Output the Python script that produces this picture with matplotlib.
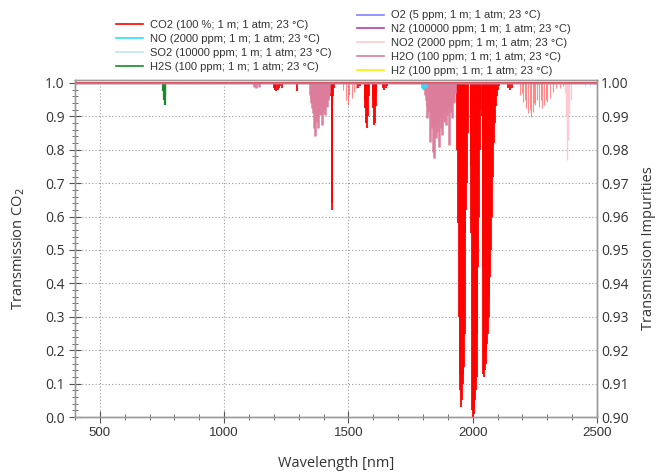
import matplotlib
matplotlib.use("Agg")
import matplotlib.pyplot as plt
from matplotlib.lines import Line2D
from matplotlib.ticker import MultipleLocator

# wavelength span of the simulation [nm]
wl_span = [400, 2500]

# CO2 (left axis) - strong lines: centre [nm], minimum transmission
co2_nm = [1200, 1205, 1210, 1215, 1220, 1226, 1232, 1293,
          1426, 1430, 1433, 1434, 1437, 1441, 1540, 1548,
          1565, 1568, 1572, 1575, 1578, 1581,
          1597, 1600, 1603, 1606, 1609, 1612,
          1640, 1645, 1650, 1655,
          1938, 1941, 1944, 1947, 1950, 1953, 1956, 1959, 1962, 1965, 1968, 1971, 1974, 1977, 1981,
          1992, 1995, 1998, 2001, 2004, 2007, 2010, 2013, 2016, 2019, 2022, 2025, 2028, 2031,
          2036, 2040, 2043, 2046, 2049, 2052, 2055, 2058, 2061, 2064, 2067, 2070, 2073, 2076,
          2080, 2084, 2088, 2092, 2096, 2100, 2104,
          2140, 2150, 2160]
co2_T = [0.985, 0.98, 0.975, 0.98, 0.985, 0.99, 0.985, 0.975,
         0.98, 0.96, 0.64, 0.62, 0.96, 0.985, 0.985, 0.99,
         0.95, 0.925, 0.88, 0.865, 0.90, 0.96,
         0.95, 0.925, 0.874, 0.88, 0.93, 0.97,
         0.985, 0.98, 0.985, 0.99,
         0.80, 0.58, 0.30, 0.13, 0.08, 0.03, 0.05, 0.10, 0.13, 0.15, 0.25, 0.55, 0.62, 0.70, 0.85,
         0.75, 0.55, 0.02, 0.0, 0.01, 0.03, 0.05, 0.08, 0.12, 0.25, 0.45, 0.60, 0.80, 0.92,
         0.90, 0.45, 0.13, 0.12, 0.14, 0.16, 0.20, 0.22, 0.25, 0.30, 0.36, 0.42, 0.50, 0.60,
         0.72, 0.82, 0.88, 0.93, 0.96, 0.98, 0.99,
         0.985, 0.98, 0.985]

# CO2 weak lines (rendered lighter)
co2w_nm = [1480, 1491, 1497, 1503, 1513, 1523, 1531,
           2190, 2198, 2203, 2210, 2215, 2223, 2229, 2235, 2243, 2247, 2251, 2259, 2267,
           2273, 2279, 2287, 2293, 2299, 2311, 2323, 2335, 2350, 2365]
co2w_T = [0.979, 0.949, 0.934, 0.964, 0.955, 0.973, 0.985,
          0.964, 0.97, 0.943, 0.95, 0.925, 0.91, 0.92, 0.898, 0.913, 0.94, 0.934, 0.949, 0.928,
          0.95, 0.925, 0.934, 0.95, 0.943, 0.955, 0.973, 0.985, 0.985, 0.99]

# impurities (right axis)
h2o_nm = [1120, 1130, 1140,
          1346, 1348, 1351, 1354, 1356, 1359, 1362, 1364, 1366, 1369, 1372, 1375, 1378, 1381,
          1384, 1386, 1389, 1393, 1395, 1398, 1401, 1403, 1406, 1409, 1413, 1416, 1418, 1421,
          1805, 1808, 1812, 1815, 1818, 1821, 1825, 1829, 1832, 1835, 1838, 1841, 1845, 1849,
          1853, 1857, 1861, 1865, 1868, 1872, 1877, 1881, 1885, 1889, 1892, 1897, 1901, 1905,
          1909, 1912, 1917, 1921, 1925, 1930]
h2o_T = [0.9988, 0.9985, 0.9988,
         0.9965, 0.9955, 0.994, 0.9925, 0.9925, 0.991, 0.9865, 0.990, 0.984, 0.990, 0.9883, 0.991,
         0.9865, 0.992, 0.991, 0.9904, 0.9925, 0.9874, 0.992, 0.991, 0.993, 0.9925, 0.9904, 0.994,
         0.9928, 0.995, 0.9955, 0.997,
         0.998, 0.9964, 0.995, 0.9895, 0.993, 0.9913, 0.992, 0.9823, 0.990, 0.9865, 0.989, 0.9793,
         0.9775, 0.988, 0.9835, 0.9853, 0.989, 0.9808, 0.990, 0.9865, 0.9844, 0.991, 0.9883, 0.992,
         0.9874, 0.9904, 0.993, 0.9814, 0.993, 0.9913, 0.9895, 0.994, 0.9943, 0.997]
no_nm = [1796, 1800, 1806, 1812]
no_T = [0.9985, 0.9982, 0.9985, 0.9988]
no2_nm = [2372, 2376, 2380, 2384, 2388, 2394]
no2_T = [0.997, 0.99, 0.977, 0.983, 0.991, 0.995]
h2s_nm = [755, 758, 761, 764]
h2s_T = [0.9975, 0.995, 0.9934, 0.996]
so2_nm = [2450, 2470, 2490]
so2_T = [0.9992, 0.999, 0.9993]

colors = {
    "CO2": "#ff0000", "NO": "#33ddff", "SO2": "#bfe6f2", "H2S": "#1a8a2a",
    "O2": "#8080ff", "N2": "#b040b0", "NO2": "#ffc8d2", "H2O": "#dc7d9b", "H2": "#ffee00",
}
labels = {
    "CO2": "CO2 (100 %; 1 m; 1 atm; 23 \u00b0C)",
    "NO": "NO (2000 ppm; 1 m; 1 atm; 23 \u00b0C)",
    "SO2": "SO2 (10000 ppm; 1 m; 1 atm; 23 \u00b0C)",
    "H2S": "H2S (100 ppm; 1 m; 1 atm; 23 \u00b0C)",
    "O2": "O2 (5 ppm; 1 m; 1 atm; 23 \u00b0C)",
    "N2": "N2 (100000 ppm; 1 m; 1 atm; 23 \u00b0C)",
    "NO2": "NO2 (2000 ppm; 1 m; 1 atm; 23 \u00b0C)",
    "H2O": "H2O (100 ppm; 1 m; 1 atm; 23 \u00b0C)",
    "H2": "H2 (100 ppm; 1 m; 1 atm; 23 \u00b0C)",
}

plt.rcParams["font.family"] = ["Open Sans", "DejaVu Sans"]

fig = plt.figure(figsize=(6.59, 4.75), dpi=100)
ax = fig.add_axes([0.1138, 0.1221, 0.7921, 0.7095])
ax2 = ax.twinx()

grey = "#9a9a9a"
ax.set_xlim(*wl_span)
ax.set_ylim(0, 1.009)
ax2.set_ylim(0.9, 1.0009)

# CO2 on left axis
ax.plot(wl_span, [1, 1], color=colors["CO2"], lw=1.2, zorder=3)
ax.vlines(co2_nm, co2_T, 1.0, color=colors["CO2"], lw=1.3, zorder=3)
ax.vlines(co2w_nm, co2w_T, 1.0, color=colors["CO2"], lw=0.8, alpha=0.45, zorder=3)

# impurities on right axis
for key, nm, t, lw in [("SO2", so2_nm, so2_T, 1.0), ("NO2", no2_nm, no2_T, 1.0),
                       ("H2O", h2o_nm, h2o_T, 1.8), ("H2S", h2s_nm, h2s_T, 1.6),
                       ("NO", no_nm, no_T, 2.0)]:
    ax2.vlines(nm, t, 1.0, color=colors[key], lw=lw, zorder=3)
for key in ["H2", "N2", "O2"]:
    ax2.plot(wl_span, [1, 1], color=colors[key], lw=1.0, zorder=4)

# axes styling
ax.xaxis.set_major_locator(MultipleLocator(500))
ax.xaxis.set_minor_locator(MultipleLocator(100))
ax.yaxis.set_minor_locator(MultipleLocator(0.02))
ax.set_yticks([i / 10 for i in range(11)])
ax.set_yticklabels([f"{i / 10:.1f}" for i in range(11)], fontsize=10, color="#333333")
ax2.set_yticks([0.9 + i / 100 for i in range(11)])
ax2.set_yticklabels([f"{0.9 + i / 100:.2f}" for i in range(11)], fontsize=10, color="#333333")
ax.tick_params(axis="x", labelsize=9.5, labelcolor="#333333")
for lab in ax.get_xticklabels():
    lab.set_family("Liberation Sans")
ax.tick_params(which="major", direction="inout", length=8, color="#555555", width=0.8)
ax.tick_params(which="minor", direction="inout", length=5, color="#555555", width=0.6)
ax2.tick_params(which="both", length=0, pad=3)
ax.grid(True, which="major", color=grey, ls=(0, (1, 2)), lw=0.8)
ax.set_axisbelow(True)
for a in (ax, ax2):
    for s in a.spines.values():
        s.set_color(grey)
        s.set_linewidth(1.0)

ax.set_xlabel("Wavelength [nm]", fontsize=10.5, color="#333333", labelpad=12)
ax.set_ylabel("Transmission CO$_2$", fontsize=10.5, color="#333333", labelpad=13)
ax2.set_ylabel("Transmission Impurities", fontsize=10.5, color="#333333", labelpad=9)


# legends
def handles(keys):
    return [Line2D([], [], color=colors[k], lw=1.2) for k in keys]


left_keys = ["CO2", "NO", "SO2", "H2S"]
right_keys = ["O2", "N2", "NO2", "H2O", "H2"]
leg_kw = dict(frameon=False, handlelength=2.4, handletextpad=0.7, labelspacing=0.34,
              prop={"family": "Liberation Sans", "size": 8.0}, borderaxespad=0, borderpad=0)
l1 = fig.legend(handles(left_keys), [labels[k] for k in left_keys],
                loc="center left", bbox_to_anchor=(116 / 659, 1 - 46 / 475), **leg_kw)
for t in l1.get_texts():
    t.set_color("#333333")
l2 = fig.legend(handles(right_keys), [labels[k] for k in right_keys],
                loc="center left", bbox_to_anchor=(357 / 659, 1 - 43 / 475), **leg_kw)
for t in l2.get_texts():
    t.set_color("#333333")

fig.savefig("out.png", dpi=100)
